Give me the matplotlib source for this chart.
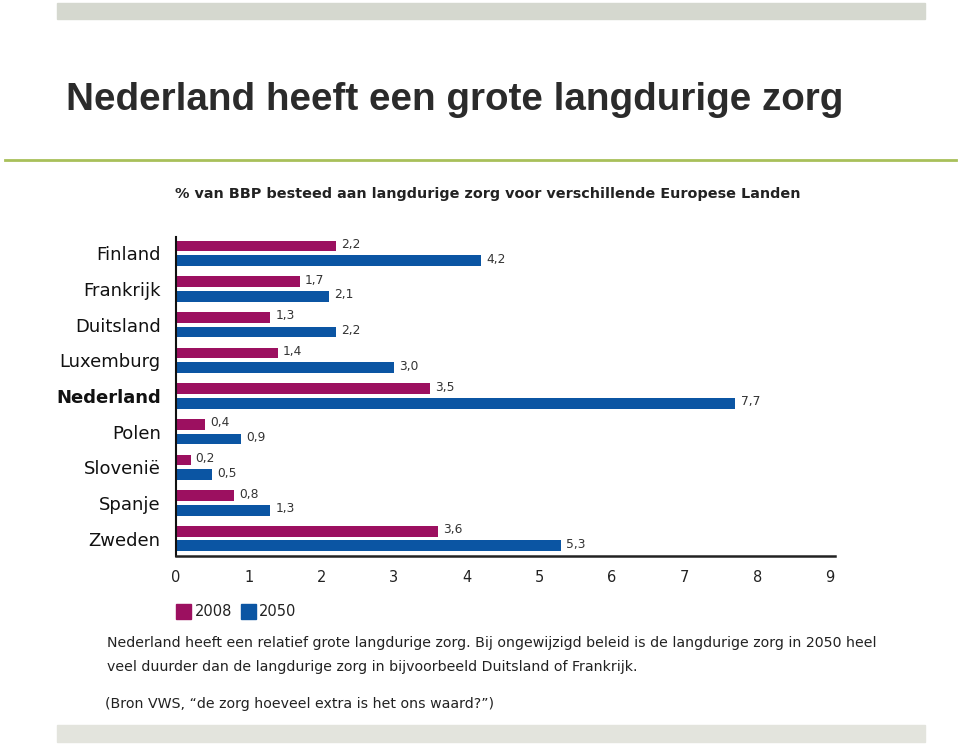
import matplotlib
matplotlib.use("Agg")
import matplotlib.pyplot as plt
from matplotlib.patches import Rectangle
from matplotlib.lines import Line2D
from matplotlib import font_manager as fm

countries = ["Finland", "Frankrijk", "Duitsland", "Luxemburg", "Nederland",
             "Polen", "Slovenië", "Spanje", "Zweden"]
v2008 = [2.2, 1.7, 1.3, 1.4, 3.5, 0.4, 0.2, 0.8, 3.6]
v2050 = [4.2, 2.1, 2.2, 3.0, 7.7, 0.9, 0.5, 1.3, 5.3]
lab2008 = ["2,2", "1,7", "1,3", "1,4", "3,5", "0,4", "0,2", "0,8", "3,6"]
lab2050 = ["4,2", "2,1", "2,2", "3,0", "7,7", "0,9", "0,5", "1,3", "5,3"]
xticks = [0, 1, 2, 3, 4, 5, 6, 7, 8, 9]
series_names = ["2008", "2050"]

C08 = "#9c1060"
C50 = "#0b55a3"
W, H = 960, 745

title_fp = None
for f in fm.fontManager.ttflist:
    if f.fname.endswith("LiberationSans-Bold.ttf"):
        title_fp = fm.FontProperties(fname=f.fname, size=27.8)
        break
if title_fp is None:
    title_fp = fm.FontProperties(family="DejaVu Sans", weight="bold", size=25)

fig = plt.figure(figsize=(9.6, 7.45), dpi=100)

def fx(x): return x / W
def fy(y): return 1 - y / H

# decorative bars
fig.patches.append(Rectangle((fx(57), fy(19)), fx(925) - fx(57), (19 - 3) / H,
                             transform=fig.transFigure, color="#d5d8cf", zorder=0))
fig.patches.append(Rectangle((fx(57), fy(742)), fx(925) - fx(57), (742 - 725) / H,
                             transform=fig.transFigure, color="#e3e4dd", zorder=0))
fig.lines.append(Line2D([fx(5), fx(956)], [fy(160), fy(160)], transform=fig.transFigure,
                        color="#a8c05a", lw=2))

fig.text(fx(66), fy(110), "Nederland heeft een grote langdurige zorg",
         fontproperties=title_fp, color="#2b2b2b", va="baseline", ha="left")
fig.text(fx(175), fy(194), "% van BBP besteed aan langdurige zorg voor verschillende Europese Landen",
         fontsize=10.4, fontweight="bold", family="DejaVu Sans", color="#222222",
         va="center", ha="left")

ax = fig.add_axes([fx(176), fy(556), (835 - 176) / W, (556 - 237) / H])
ypos = list(range(len(countries)))
off = 0.205
bh = 0.30
ax.barh([y - off for y in ypos], v2008, height=bh, color=C08, label=series_names[0])
ax.barh([y + off for y in ypos], v2050, height=bh, color=C50, label=series_names[1])
for y, v, l in zip(ypos, v2008, lab2008):
    ax.text(v + 0.07, y - off - 0.04, l, fontsize=8.8, va="center", ha="left", color="#333333")
for y, v, l in zip(ypos, v2050, lab2050):
    ax.text(v + 0.07, y + off - 0.04, l, fontsize=8.8, va="center", ha="left", color="#333333")

ax.set_xlim(0, 9.07)
ax.set_ylim(8.49, -0.46)
ax.set_xticks(xticks)
ax.set_xticklabels([str(t) for t in xticks], fontsize=10.5, color="#222222")
ax.tick_params(axis="x", length=0, pad=10)
ax.set_yticks(ypos)
ax.set_yticklabels(countries, fontsize=13, color="#111111")
ax.tick_params(axis="y", length=0, pad=11)
for lbl in ax.get_yticklabels():
    if lbl.get_text() == "Nederland":
        lbl.set_fontweight("bold")
ax.spines["top"].set_visible(False)
ax.spines["right"].set_visible(False)
ax.spines["left"].set_linewidth(1.5)
ax.spines["bottom"].set_linewidth(1.8)
ax.spines["left"].set_color("#111111")
ax.spines["bottom"].set_color("#222222")
ax.set_facecolor("none")

# legend
fig.patches.append(Rectangle((fx(176), fy(619)), 15 / W, 15 / H, transform=fig.transFigure, color=C08))
fig.text(fx(195), fy(611), series_names[0], fontsize=10.5, va="center", ha="left", color="#222222")
fig.patches.append(Rectangle((fx(241), fy(619)), 15 / W, 15 / H, transform=fig.transFigure, color=C50))
fig.text(fx(259), fy(611), series_names[1], fontsize=10.5, va="center", ha="left", color="#222222")

fig.text(fx(107), fy(643), "Nederland heeft een relatief grote langdurige zorg. Bij ongewijzigd beleid is de langdurige zorg in 2050 heel",
         fontsize=10.15, va="center", ha="left", color="#222222")
fig.text(fx(107), fy(667), "veel duurder dan de langdurige zorg in bijvoorbeeld Duitsland of Frankrijk.",
         fontsize=10.15, va="center", ha="left", color="#222222")
fig.text(fx(105), fy(704), "(Bron VWS, \u201cde zorg hoeveel extra is het ons waard?\u201d)",
         fontsize=10.15, va="center", ha="left", color="#222222")

fig.savefig("out.png", dpi=100)
